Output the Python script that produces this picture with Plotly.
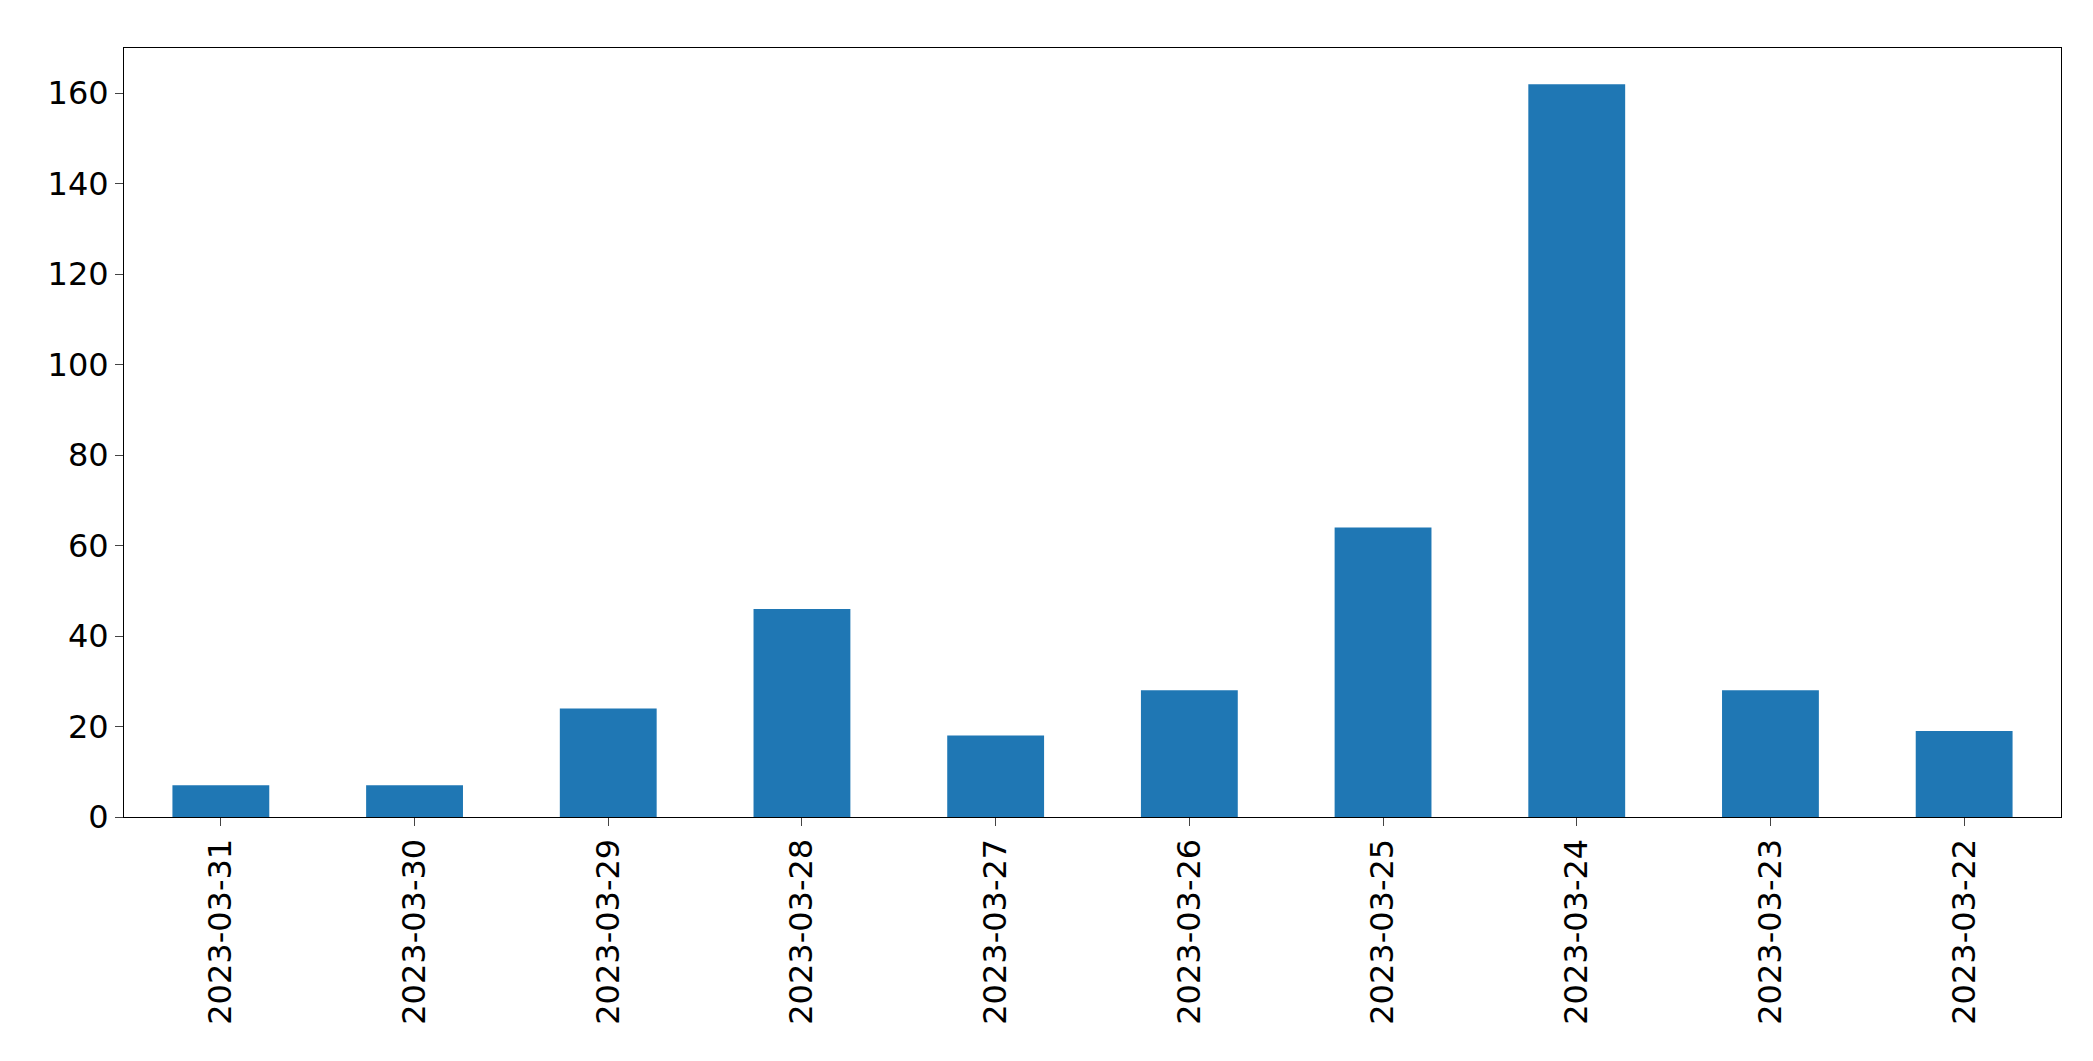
import plotly.graph_objects as go

dates = ["2023-03-31","2023-03-30","2023-03-29","2023-03-28","2023-03-27",
         "2023-03-26","2023-03-25","2023-03-24","2023-03-23","2023-03-22"]
counts = [7, 7, 24, 46, 18, 28, 64, 162, 28, 19]

fig = go.Figure(go.Bar(x=dates, y=counts, width=0.5, marker_color="#1f77b4", marker_line_width=0))
fig.update_layout(
    width=2093, height=1061, plot_bgcolor="white", paper_bgcolor="white",
    margin=dict(l=116, r=40, t=40, b=252), showlegend=False,
    font=dict(family="DejaVu Sans", size=32, color="black"),
)
fig.update_xaxes(type="category", range=[-0.5, 9.5], tickangle=-90, showline=True,
                 linecolor="black", mirror=True, ticks="outside", ticklen=8, showgrid=False)
fig.update_yaxes(range=[0, 170], tickvals=list(range(0, 161, 20)), showline=True,
                 linecolor="black", mirror=True, ticks="outside", ticklen=8,
                 showgrid=False, zeroline=False)
fig.write_html("out.html")
